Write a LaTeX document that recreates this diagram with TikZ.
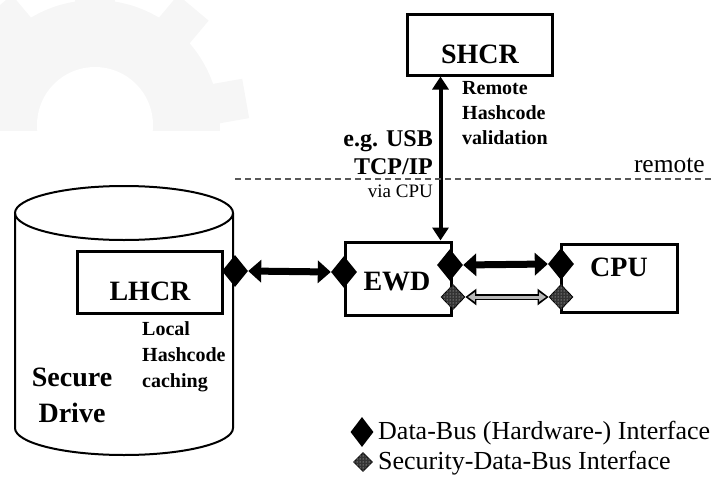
\documentclass[tikz,border=0pt]{standalone}
\usepackage{fontspec}
\setmainfont{Liberation Serif}
\usetikzlibrary{shapes,arrows,positioning,calc,patterns,arrows.meta}

\tikzset{
  wmark/.style={fill=gray!7},
  box/.style={draw, line width=3pt, inner sep=0pt},
  drum/.style={line width=2pt},
  boxlbl/.style={font=\fontsize{28}{34}\selectfont\bfseries, inner sep=0pt},
  note/.style={font=\fontsize{20}{25}\selectfont\bfseries, inner sep=0pt},
  keytxt/.style={font=\fontsize{26}{30}\selectfont, inner sep=0pt},
  hwport/.style={diamond, fill=black, inner sep=0pt, minimum width=26pt, minimum height=32pt},
  secport/.style={diamond, draw=black, line width=0.8pt, fill=black!80,
    postaction={pattern=dots, pattern color=white!85!gray},
    inner sep=0pt, minimum width=24pt, minimum height=25pt},
  bus/.style={line width=7pt, {Triangle[length=13pt,width=22pt]}-{Triangle[length=13pt,width=22pt]}},
  secbus/.style={line width=6pt, {Triangle[length=11pt,width=16pt]}-{Triangle[length=11pt,width=16pt]},
    postaction={draw=gray!55, line width=3pt, shorten <=2.5pt, shorten >=2.5pt,
      {Triangle[length=7pt,width=9pt]}-{Triangle[length=7pt,width=9pt]}}},
  link/.style={line width=4pt, {Triangle[length=13pt,width=16pt]}-{Triangle[length=13pt,width=16pt]}}
}

\begin{document}
\begin{tikzpicture}[x=1pt,y=-1pt]
\useasboundingbox (0,0) rectangle (721,477);

% faint gear in the background
\begin{scope}
  \clip (0,0) rectangle (330,130);
  \fill[wmark] (95,125) circle (125);
  \foreach \a in {0,40,...,320}
    \fill[wmark, rotate around={\a:(95,125)}] (75,-28) rectangle (115,5);
  \fill[white] (95,125) circle (58);
\end{scope}

% drive
\draw[drum] (15,213) -- (15,428) arc[start angle=180, end angle=0, x radius=109, y radius=27] -- (233,213);
\draw[drum] (124,213) ellipse [x radius=109, y radius=27];

% boxes
\node[box, minimum width=145pt, minimum height=61pt] (shcr) at (479.5,44.5) {};
\node[box, minimum width=145pt, minimum height=62pt] (lhcr) at (149.5,282) {};
\node[box, minimum width=106pt, minimum height=73pt] (ewd) at (398,278.5) {};
\node[box, minimum width=116pt, minimum height=68pt] (cpu) at (619,278) {};

\node[boxlbl, anchor=base] (shcrtxt) at (480,63) {SHCR};
\node[boxlbl, anchor=base] (lhcrtxt) at (150,300) {LHCR};
\node[boxlbl, anchor=base] (ewdtxt) at (397,290) {EWD};
\node[boxlbl, anchor=base] (cputxt) at (619,276) {CPU};

% interfaces
\node[hwport] (lport) at (235,271) {};
\node[hwport] (ewdin) at (344,272) {};
\node[hwport] (ewdout) at (450,265) {};
\node[hwport] (cpuin) at (561,264) {};
\node[secport] (ewdsec) at (453,297) {};
\node[secport] (cpusec) at (561,297) {};

\draw[bus] (lport.east) -- (ewdin.west);
\draw[bus] (ewdout.east) -- (cpuin.west);
\draw[secbus] (ewdsec.east) -- (cpusec.west);
\draw[link] ([xshift=-12pt]ewd.north east) -- ([xshift=-12pt]ewd.north east |- shcr.south);

% remote border
\draw[gray!70!black, line width=1.2pt, dash pattern=on 6pt off 4pt] (235,179) -- (713,179);
\node[keytxt, font=\fontsize{25.5}{30}\selectfont, anchor=base east] (remotetxt) at (705,172) {remote};

% notes
\node[note, align=left, anchor=north west] (valtxt) at (462,81) {Remote\\Hashcode\\validation};
\node[note, font=\fontsize{24}{28}\selectfont\bfseries, align=right, anchor=north east] (usbtxt) at (433,130.5) {e.g. USB\\TCP/IP};
\node[note, font=\fontsize{19}{22}\selectfont, anchor=base east] (viatxt) at (433,197) {via CPU};
\node[note, font=\fontsize{20}{26}\selectfont\bfseries, align=left, anchor=north west] (cachetxt) at (142,321) {Local\\Hashcode\\caching};
\node[boxlbl, font=\fontsize{28}{36}\selectfont\bfseries, align=center, anchor=north] (drivetxt) at (72,368) {Secure\\Drive};

% legend
\node[hwport, minimum width=23pt, minimum height=30pt] (keyhw) at (362,432) {};
\node[secport, minimum width=19pt, minimum height=19pt] (keysec) at (363,462) {};
\node[keytxt, anchor=base west] (keyhwtxt) at (378,439) {Data-Bus (Hardware-) Interface};
\node[keytxt, anchor=base west] (keysectxt) at (378,469) {Security-Data-Bus Interface};
\end{tikzpicture}
\end{document}
